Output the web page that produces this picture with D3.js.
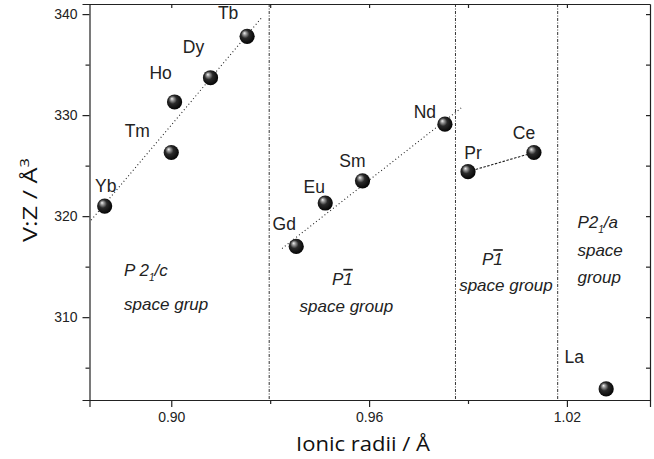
<!DOCTYPE html>
<html>
  <head>
    <meta charset="utf-8" />
    <script src="https://d3js.org/d3.v7.min.js"></script>
    <style>
      body { margin: 0; background: #fff; }
      svg { display: block; }
      .tick text { font-family: "Liberation Sans", Arial, sans-serif; font-size: 14px; fill: #222; }
      .domain, .tick line { stroke: #222; stroke-width: 1.2px; }
    </style>
  </head>
  <body>
    <svg id="canvas" width="654" height="459"></svg>
    <script>
      // data
      const elements = ["Yb", "Tm", "Ho", "Dy", "Tb", "Gd", "Eu", "Sm", "Nd", "Pr", "Ce", "La"];
      const radii = [0.8798, 0.9, 0.901, 0.9119, 0.923, 0.9379, 0.9467, 0.958, 0.983, 0.99, 1.01, 1.0319];
      const volumes = [321.0, 326.3, 331.3, 333.7, 337.8, 317.0, 321.3, 323.5, 329.1, 324.4, 326.3, 302.9];

      // fitted trend lines, end points
      const fit1X = [0.8757, 0.9273];
      const fit1Y = [319.6, 339.6];
      const fit2X = [0.9336, 0.9879];
      const fit2Y = [316.8, 330.7];
      const fit3X = [0.99, 1.01];
      const fit3Y = [324.4, 326.3];

      // space group boundaries
      const dividers = [0.9297, 0.9862, 1.0172];

      const xMajor = [0.9, 0.96, 1.02];
      const xMinor = [0.93, 0.99];
      const yMajor = [310, 320, 330, 340];
      const yMinor = [305, 315, 325, 335];

      // label offsets in px from each point (layout only)
      const labelDx = [1, -34, -14, -17, -19, -12, -11, -10, -20, 5, -10, -32];
      const labelDy = [-14, -16, -23, -25, -17, -16, -10, -14, -6, -13, -14, -26];

      const margin = { left: 89.5, top: 4, right: 650, bottom: 400 };

      const x = d3.scaleLinear().domain([0.8752, 1.0452]).range([margin.left, margin.right]);
      const y = d3.scaleLinear().domain([301.8, 341.0]).range([margin.bottom, margin.top]);

      const svg = d3.select("#canvas");

      const defs = svg.append("defs");
      const grad = defs.append("radialGradient")
        .attr("id", "ball")
        .attr("cx", "45%").attr("cy", "45%").attr("r", "60%")
        .attr("fx", "32%").attr("fy", "28%");
      grad.append("stop").attr("offset", "0%").attr("stop-color", "#f4f4f4");
      grad.append("stop").attr("offset", "18%").attr("stop-color", "#9a9a9a");
      grad.append("stop").attr("offset", "45%").attr("stop-color", "#2a2a2a");
      grad.append("stop").attr("offset", "100%").attr("stop-color", "#000");

      // dividers
      svg.append("g").selectAll("line")
        .data(dividers)
        .enter()
        .append("line")
        .attr("x1", (d) => x(d)).attr("x2", (d) => x(d))
        .attr("y1", margin.top).attr("y2", margin.bottom)
        .style("stroke", "#333")
        .style("stroke-width", "1px")
        .style("stroke-dasharray", "3,1.5,1,1.5");

      // axes
      svg.append("g")
        .attr("transform", `translate(0,${margin.bottom})`)
        .call(d3.axisBottom(x).tickValues(xMajor).tickSize(7).tickPadding(5).tickFormat(d3.format(".2f")));
      svg.append("g")
        .attr("transform", `translate(0,${margin.bottom})`)
        .call(d3.axisBottom(x).tickValues(xMinor).tickSize(4).tickFormat(""))
        .select(".domain").remove();
      svg.append("g")
        .attr("transform", `translate(0,${margin.top})`)
        .call(d3.axisTop(x).tickValues(xMajor.concat(xMinor)).tickSizeInner(-4).tickSizeOuter(0).tickFormat(""));

      svg.append("g")
        .attr("transform", `translate(${margin.left},0)`)
        .call(d3.axisLeft(y).tickValues(yMajor).tickSize(7).tickPadding(5));
      svg.append("g")
        .attr("transform", `translate(${margin.left},0)`)
        .call(d3.axisLeft(y).tickValues(yMinor).tickSize(4).tickFormat(""))
        .select(".domain").remove();
      svg.append("g")
        .attr("transform", `translate(${margin.right},0)`)
        .call(d3.axisRight(y).tickValues(yMajor.concat(yMinor)).tickSizeInner(-4).tickSizeOuter(0).tickFormat(""));

      // fit lines
      const line = d3.line().x((d) => x(d[0])).y((d) => y(d[1]));
      const fits = [
        { pts: d3.zip(fit1X, fit1Y), dash: "1,2.6" },
        { pts: d3.zip(fit2X, fit2Y), dash: "1,2.6" },
        { pts: d3.zip(fit3X, fit3Y), dash: "2.5,1.5" },
      ];
      svg.append("g").selectAll("path")
        .data(fits)
        .enter()
        .append("path")
        .attr("d", (d) => line(d.pts))
        .style("fill", "none")
        .style("stroke", "#222")
        .style("stroke-width", "1.1px")
        .style("stroke-dasharray", (d) => d.dash);

      const points = elements.map((e, i) => ({ name: e, r: radii[i], v: volumes[i], dx: labelDx[i], dy: labelDy[i] }));

      // balls
      svg.append("g").selectAll("circle")
        .data(points)
        .enter()
        .append("circle")
        .attr("cx", (d) => x(d.r))
        .attr("cy", (d) => y(d.v))
        .attr("r", 7.6)
        .attr("fill", "url(#ball)");

      // element labels
      svg.append("g").selectAll("text")
        .data(points)
        .enter()
        .append("text")
        .attr("x", (d) => x(d.r) + d.dx)
        .attr("y", (d) => y(d.v) + d.dy)
        .attr("text-anchor", "middle")
        .style("font-family", "'Liberation Sans', Arial, sans-serif")
        .style("font-size", "17.5px")
        .style("fill", "#222")
        .text((d) => d.name);

      // space group annotations
      const note = svg.append("g")
        .style("font-family", "'Liberation Sans', Arial, sans-serif")
        .style("font-size", "17px")
        .style("font-style", "italic")
        .style("fill", "#222");

      function p21(t, px, py, sep, tail) {
        t.attr("x", px).attr("y", py);
        t.append("tspan").text("P" + sep + "2");
        t.append("tspan").attr("dy", 5).style("font-size", "10px").text("1");
        t.append("tspan").attr("dy", -5).text(tail);
      }
      p21(note.append("text"), x(0.8857), y(314.06), " ", "/c");
      note.append("text").attr("x", x(0.8857)).attr("y", y(310.7)).text("space grup");

      function p1bar(cx, cy) {
        const t = note.append("text").attr("x", cx).attr("y", cy).attr("text-anchor", "middle");
        t.append("tspan").text("P");
        t.append("tspan").style("text-decoration", "overline").text("1");
      }
      p1bar(x(0.9519), y(313.2));
      note.append("text").attr("x", x(0.9531)).attr("y", y(310.5)).attr("text-anchor", "middle").text("space group");
      p1bar(x(0.9974), y(315.15));
      note.append("text").attr("x", x(1.0015)).attr("y", y(312.6)).attr("text-anchor", "middle").text("space group");

      p21(note.append("text"), x(1.0232), y(318.8), "", "/a");
      note.append("text").attr("x", x(1.0232)).attr("y", y(316.1)).text("space");
      note.append("text").attr("x", x(1.0232)).attr("y", y(313.4)).text("group");

      // axis titles
      svg.append("text")
        .attr("x", 363).attr("y", 451)
        .attr("text-anchor", "middle")
        .attr("textLength", 134)
        .attr("lengthAdjust", "spacingAndGlyphs")
        .style("font-family", "'Open Sans', sans-serif")
        .style("font-size", "20px")
        .style("fill", "#111")
        .text("Ionic radii / Å");

      const yt = svg.append("text")
        .attr("transform", "translate(37,200) rotate(-90)")
        .attr("text-anchor", "middle")
        .attr("textLength", 84)
        .attr("lengthAdjust", "spacingAndGlyphs")
        .style("font-family", "'Open Sans', sans-serif")
        .style("font-size", "20px")
        .style("fill", "#111");
      yt.append("tspan").text("V:Z / Å");
      yt.append("tspan").attr("dy", -8).style("font-size", "13px").text("3");
    </script>
  </body>
</html>
